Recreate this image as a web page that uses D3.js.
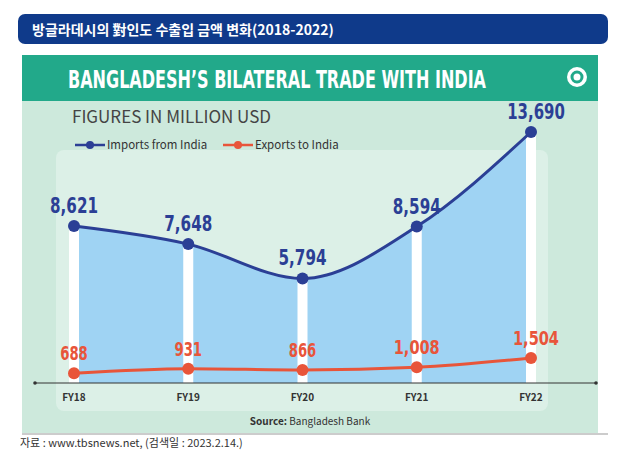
<!DOCTYPE html>
<html><head><meta charset="utf-8">
<script src="https://cdn.jsdelivr.net/npm/d3@7"></script>
<style>body{margin:0;background:#fff;font-family:"Noto Sans CJK KR","Noto Sans",sans-serif}</style>
</head><body><div id="chart"></div>
<script>
var years = ['FY18', 'FY19', 'FY20', 'FY21', 'FY22'];
var imports = [8621, 7648, 5794, 8594, 13690];
var exportsIndia = [688, 931, 866, 1008, 1504];

var svg = d3.select('#chart').append('svg').attr('width', 635).attr('height', 462);

// Korean header bar
svg.append('rect').attr('x', 18).attr('y', 14).attr('width', 590).attr('height', 30).attr('rx', 7).attr('fill', '#0f3a8a');
svg.append('text').attr('x', 32).attr('y', 35).attr('fill', '#fff').attr('font-size', 14).attr('font-weight', 'bold')
  .text('방글라데시의 對인도 수출입 금액 변화(2018-2022)');

// panels
svg.append('rect').attr('x', 22).attr('y', 55).attr('width', 576).attr('height', 378).attr('fill', '#cde9dc');
svg.append('rect').attr('x', 22).attr('y', 55).attr('width', 576).attr('height', 46).attr('fill', '#22a98a');
svg.append('rect').attr('x', 56).attr('y', 150).attr('width', 492).attr('height', 261).attr('rx', 8).attr('fill', '#dcf0e7');
svg.append('text').attr('x', 68).attr('y', 88).attr('fill', '#fff').attr('font-size', 24).attr('font-weight', 'bold')
  .attr('font-family', 'DejaVu Sans Condensed, sans-serif').attr('textLength', 418).attr('lengthAdjust', 'spacingAndGlyphs')
  .text('BANGLADESH’S BILATERAL TRADE WITH INDIA');
// logo mark
svg.append('circle').attr('cx', 577).attr('cy', 77).attr('r', 10).attr('fill', '#fff');
svg.append('circle').attr('cx', 577).attr('cy', 77).attr('r', 5).attr('fill', 'none').attr('stroke', '#22a98a').attr('stroke-width', 3);
svg.append('text').attr('x', 72).attr('y', 123).attr('fill', '#444').attr('font-size', 17).text('FIGURES IN MILLION USD');

// legend
var legend = [['Imports from India', '#2b3f95', 75], ['Exports to India', '#e8553a', 223]];
legend.forEach(function(l) {
  svg.append('line').attr('x1', l[2]).attr('x2', l[2] + 30).attr('y1', 145).attr('y2', 145).attr('stroke', l[1]).attr('stroke-width', 2.5);
  svg.append('circle').attr('cx', l[2] + 15).attr('cy', 145).attr('r', 4).attr('fill', l[1]);
  svg.append('text').attr('x', l[2] + 32).attr('y', 149).attr('font-size', 11.5).attr('fill', '#333').text(l[0]);
});

var x = d3.scalePoint().domain(years).range([74, 531]);
var y = d3.scaleLinear().domain([0, 13690]).range([386, 132]);
var base = 383;
var curve = d3.curveMonotoneX;

svg.append('path').datum(imports)
  .attr('d', d3.area().x((d, i) => x(years[i])).y0(base).y1(d => y(d)).curve(curve))
  .attr('fill', '#9fd3f3');

// white pillars
svg.selectAll('.pillar').data(imports).enter().append('rect')
  .attr('x', (d, i) => x(years[i]) - 5).attr('width', 10)
  .attr('y', d => y(d)).attr('height', d => base - y(d)).attr('fill', '#fff');

svg.append('line').attr('x1', 35).attr('x2', 596).attr('y1', base).attr('y2', base).attr('stroke', '#333').attr('stroke-width', 1);
svg.selectAll('.endDot').data([35, 596]).enter().append('circle').attr('cx', d => d).attr('cy', base).attr('r', 1.8).attr('fill', '#333');

function series(vals, color, fs, cw) {
  svg.append('path').datum(vals)
    .attr('d', d3.line().x((d, i) => x(years[i])).y(d => y(d)).curve(curve))
    .attr('fill', 'none').attr('stroke', color).attr('stroke-width', 3);
  svg.selectAll(null).data(vals).enter().append('circle')
    .attr('cx', (d, i) => x(years[i])).attr('cy', d => y(d)).attr('r', 6).attr('fill', color);
  svg.selectAll(null).data(vals).enter().append('text')
    .attr('x', (d, i) => x(years[i]) + (i === 4 ? 5 : 0)).attr('y', d => y(d) - 13)
    .attr('text-anchor', 'middle').attr('font-size', fs).attr('font-weight', 'bold')
    .attr('font-family', 'DejaVu Sans Condensed, sans-serif').attr('fill', color)
    .attr('textLength', d => d3.format(',')(d).length * cw).attr('lengthAdjust', 'spacingAndGlyphs')
    .text(d => d3.format(',')(d));
}
series(imports, '#2b3f95', 21, 9.6);
series(exportsIndia, '#e8553a', 19, 9.2);

svg.selectAll('.tick').data(years).enter().append('text')
  .attr('x', d => x(d)).attr('y', 401).attr('text-anchor', 'middle')
  .attr('font-size', 10).attr('font-weight', 'bold').attr('fill', '#333').text(d => d);

var src = svg.append('text').attr('x', 310).attr('y', 425).attr('text-anchor', 'middle').attr('font-size', 10).attr('fill', '#333');
src.append('tspan').attr('font-weight', 'bold').text('Source: ');
src.append('tspan').text('Bangladesh Bank');

svg.append('line').attr('x1', 22).attr('x2', 608).attr('y1', 434).attr('y2', 434).attr('stroke', '#999');
svg.append('text').attr('x', 20).attr('y', 447).attr('font-size', 11).attr('fill', '#333')
  .text('자료 : www.tbsnews.net, (검색일 : 2023.2.14.)');
</script></body></html>
